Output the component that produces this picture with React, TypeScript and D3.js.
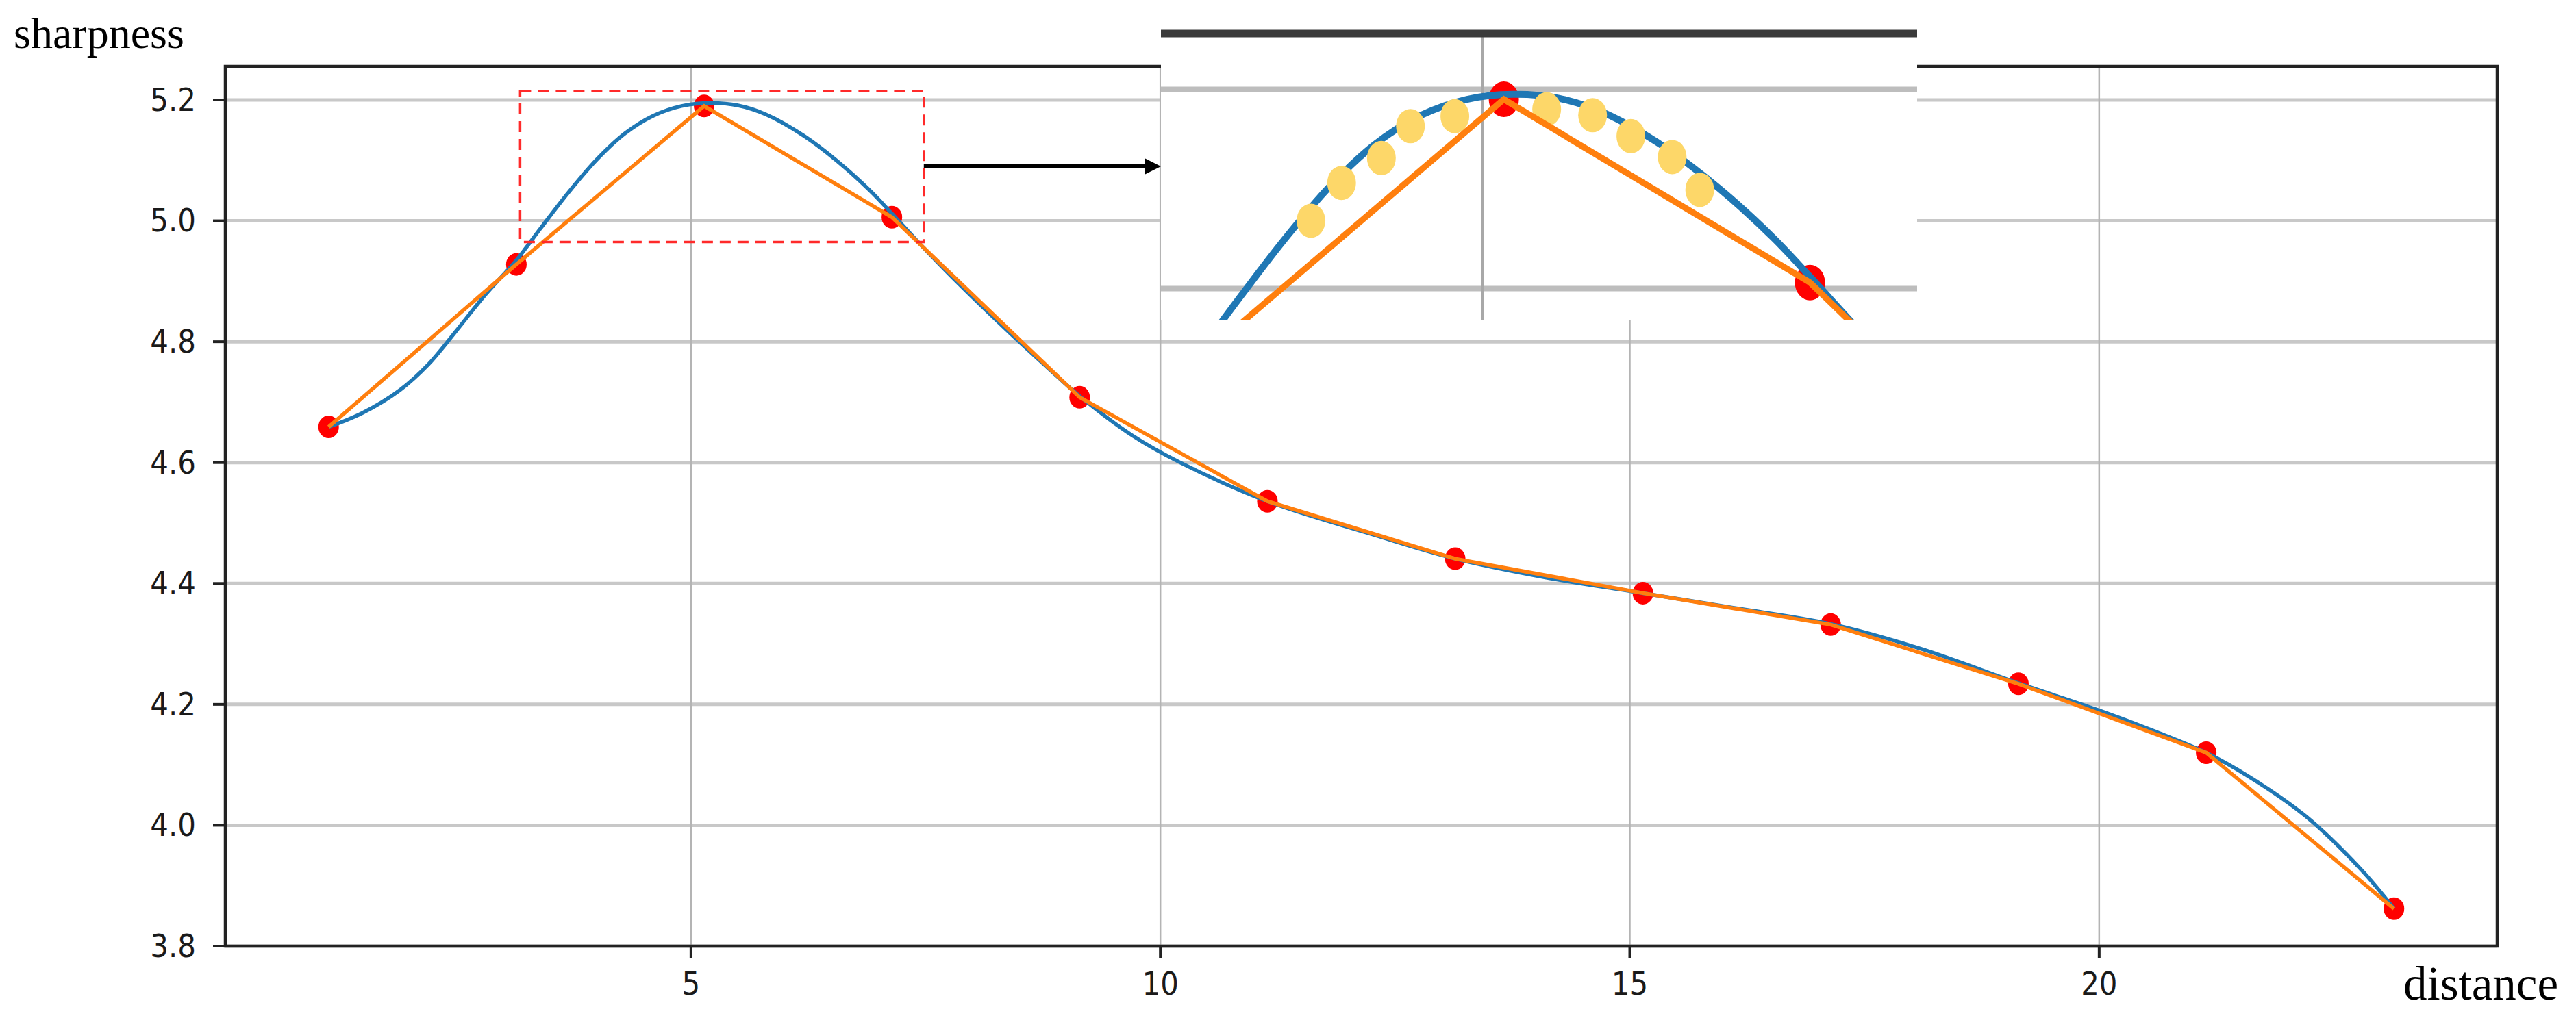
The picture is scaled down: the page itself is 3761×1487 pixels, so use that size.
import React, { useEffect } from "react";
import * as d3 from "d3";

// measured samples (red markers, joined by the orange polyline)
const distance = [1.14, 3.14, 5.14, 7.14, 9.14, 11.14, 13.14, 15.14, 17.14, 19.14, 21.14, 23.14];
const sharpness = [4.659, 4.928, 5.19, 5.006, 4.708, 4.536, 4.441, 4.384, 4.332, 4.234, 4.12, 3.862];

// smooth (blue) curve
const smoothDistance = [
  1.14, 1.5, 1.9, 2.2, 2.5, 2.8, 3.14, 3.4, 3.7, 4.0, 4.3, 4.6, 4.9, 5.2, 5.5, 5.8, 6.2, 6.55, 6.9, 7.14,
  7.45, 7.8, 8.4, 8.8, 9.14, 9.7, 10.2, 11.14, 12.2, 13.14, 14.1, 15.14, 16.1, 17.14, 18.1, 19.14, 20.0,
  20.6, 21.14, 21.6, 22.2, 22.8, 23.14,
];
const smoothSharpness = [
  4.659, 4.682, 4.72, 4.762, 4.818, 4.876, 4.935, 4.988, 5.048, 5.102, 5.145, 5.174, 5.19, 5.195, 5.191,
  5.176, 5.141, 5.1, 5.051, 5.012, 4.96, 4.904, 4.814, 4.757, 4.71, 4.645, 4.601, 4.536, 4.484, 4.441,
  4.41, 4.384, 4.36, 4.333, 4.292, 4.235, 4.19, 4.155, 4.12, 4.08, 4.015, 3.925, 3.862,
];

// yellow sample points shown in the magnified view
const sampleDistance = [3.88, 4.08, 4.34, 4.53, 4.82, 5.42, 5.72, 5.97, 6.24, 6.42];
const sampleSharpness = [5.068, 5.106, 5.131, 5.163, 5.173, 5.18, 5.174, 5.153, 5.132, 5.099];

const xTicks = [5, 10, 15, 20];
const yTicks = [3.8, 4.0, 4.2, 4.4, 4.6, 4.8, 5.0, 5.2];

const xDomain = [0.04, 24.24];
const yDomain = [3.8, 5.2555];

// dashed window (data units) and the range shown in the magnified view
const zoomDistance = [3.18, 7.48];
const zoomSharpness = [4.965, 5.215];
const insetDistance = [2.9, 7.84];
const insetSharpness = [4.968, 5.256];

const W = 3761;
const H = 1487;
const plot = { left: 329, right: 3646, top: 97, bottom: 1382 };
const inset = { left: 1695, right: 2799, top: 49, bottom: 468 };

const BLUE = "#1f77b4";
const ORANGE = "#ff7f0e";
const RED = "#ff0000";
const TICK_FONT = "'DejaVu Sans', sans-serif";
const LABEL_FONT = "'Liberation Serif', 'Times New Roman', serif";

type Pt = [number, number];

const App = () => {
  useEffect(() => {
    document.body.style.margin = "0";
  }, []);

  const x = d3.scaleLinear().domain(xDomain).range([plot.left, plot.right]);
  const y = d3.scaleLinear().domain(yDomain).range([plot.bottom, plot.top]);

  const xi = d3.scaleLinear().domain(insetDistance).range([inset.left, inset.right]);
  const yi = d3.scaleLinear().domain(insetSharpness).range([inset.bottom, inset.top]);

  const points: Pt[] = distance.map((d, i) => [d, sharpness[i]]);
  const smooth: Pt[] = smoothDistance.map((d, i) => [d, smoothSharpness[i]]);
  const samples: Pt[] = sampleDistance.map((d, i) => [d, sampleSharpness[i]]);

  const polyline = d3.line<Pt>().x(d => x(d[0])).y(d => y(d[1]));
  const curve = d3.line<Pt>().x(d => x(d[0])).y(d => y(d[1])).curve(d3.curveCatmullRom.alpha(0.5));
  const polylineI = d3.line<Pt>().x(d => xi(d[0])).y(d => yi(d[1]));
  const curveI = d3.line<Pt>().x(d => xi(d[0])).y(d => yi(d[1])).curve(d3.curveCatmullRom.alpha(0.5));

  const rx0 = x(zoomDistance[0]);
  const rx1 = x(zoomDistance[1]);
  const ry0 = y(zoomSharpness[1]);
  const ry1 = y(zoomSharpness[0]);
  const arrowY = (ry0 + ry1) / 2;

  return (
    <svg width={W} height={H} style={{ position: "absolute", left: 0, top: 0, display: "block" }}>
      <rect width={W} height={H} fill="#fff" />

      {/* grid */}
      {yTicks.map(t => (
        <line key={"gy" + t} x1={plot.left} x2={plot.right} y1={y(t)} y2={y(t)} stroke="#c8c8c8" strokeWidth={5} />
      ))}
      {xTicks.map(t => (
        <line key={"gx" + t} x1={x(t)} x2={x(t)} y1={plot.top} y2={plot.bottom} stroke="#b4b4b4" strokeWidth={2.5} />
      ))}

      {/* series */}
      {points.map((d, i) => (
        <ellipse key={"p" + i} cx={x(d[0])} cy={y(d[1])} rx={15} ry={16.5} fill={RED} />
      ))}
      <path d={curve(smooth) || ""} fill="none" stroke={BLUE} strokeWidth={5.5} />
      <path d={polyline(points) || ""} fill="none" stroke={ORANGE} strokeWidth={5.5} />

      {/* spines */}
      <rect
        x={plot.left}
        y={plot.top}
        width={plot.right - plot.left}
        height={plot.bottom - plot.top}
        fill="none"
        stroke="#222"
        strokeWidth={4.5}
      />

      {/* y axis */}
      {yTicks.map(t => (
        <g key={"ty" + t}>
          <line x1={plot.left - 18} x2={plot.left} y1={y(t)} y2={y(t)} stroke="#222" strokeWidth={4} />
          <text
            transform={`translate(${plot.left - 43},${y(t)}) scale(1,1.12)`}
            textAnchor="end"
            dominantBaseline="central"
            fontFamily={TICK_FONT}
            fontSize={42}
            fill="#1a1a1a"
          >
            {t.toFixed(1)}
          </text>
        </g>
      ))}

      {/* x axis */}
      {xTicks.map(t => (
        <g key={"tx" + t}>
          <line x1={x(t)} x2={x(t)} y1={plot.bottom} y2={plot.bottom + 18} stroke="#222" strokeWidth={4} />
          <text
            transform={`translate(${x(t)},${plot.bottom + 71}) scale(1,1.12)`}
            textAnchor="middle"
            fontFamily={TICK_FONT}
            fontSize={42}
            fill="#1a1a1a"
          >
            {t}
          </text>
        </g>
      ))}

      <text x={20} y={70} fontFamily={LABEL_FONT} fontSize={64} fill="#000">
        sharpness
      </text>
      <text x={3509} y={1460} fontFamily={LABEL_FONT} fontSize={69} fill="#000">
        distance
      </text>

      {/* dashed window */}
      <rect
        x={rx0}
        y={ry0}
        width={rx1 - rx0}
        height={ry1 - ry0}
        fill="none"
        stroke="#ff2a2a"
        strokeWidth={3.5}
        strokeDasharray="16 10"
      />

      {/* arrow */}
      <line x1={rx1} x2={inset.left - 20} y1={arrowY} y2={arrowY} stroke="#000" strokeWidth={6} />
      <path
        d={`M${inset.left},${arrowY} L${inset.left - 24},${arrowY - 12} L${inset.left - 24},${arrowY + 12} Z`}
        fill="#000"
      />

      {/* magnified view */}
      <defs>
        <clipPath id="insetClip">
          <rect x={inset.left} y={inset.top} width={inset.right - inset.left} height={inset.bottom - inset.top} />
        </clipPath>
      </defs>
      <rect x={inset.left} y={20} width={inset.right - inset.left} height={inset.bottom - 20} fill="#fff" />
      <g clipPath="url(#insetClip)">
        {yTicks.map(t => (
          <line key={"igy" + t} x1={inset.left} x2={inset.right} y1={yi(t)} y2={yi(t)} stroke="#bdbdbd" strokeWidth={8} />
        ))}
        {xTicks.map(t => (
          <line key={"igx" + t} x1={xi(t)} x2={xi(t)} y1={inset.top} y2={inset.bottom} stroke="#a8a8a8" strokeWidth={4} />
        ))}
        {points.map((d, i) => (
          <ellipse key={"ip" + i} cx={xi(d[0])} cy={yi(d[1])} rx={22} ry={26} fill={RED} />
        ))}
        <path d={curveI(smooth) || ""} fill="none" stroke={BLUE} strokeWidth={10} />
        {samples.map((d, i) => (
          <ellipse key={"is" + i} cx={xi(d[0])} cy={yi(d[1])} rx={21} ry={25} fill="#fdd769" />
        ))}
        <path d={polylineI(points) || ""} fill="none" stroke={ORANGE} strokeWidth={9} />
      </g>
      <line x1={inset.left} x2={inset.right} y1={inset.top} y2={inset.top} stroke="#3a3a3a" strokeWidth={11} />
    </svg>
  );
};

export default App;
